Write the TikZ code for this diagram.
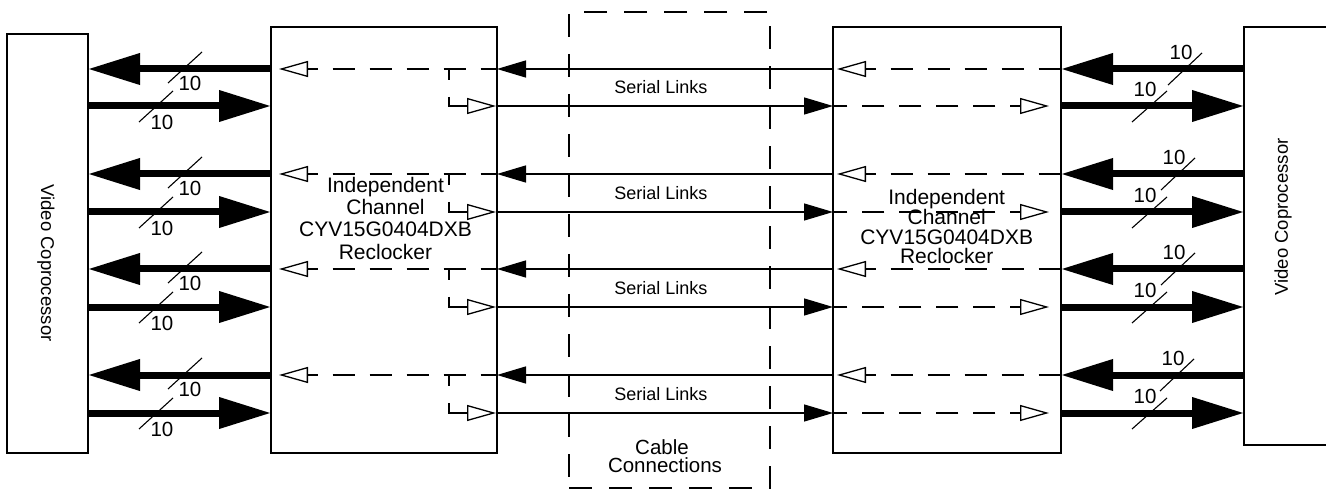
\documentclass[tikz,border=0pt]{standalone}
\usepackage{fontspec}
\setmainfont{Liberation Sans}
\usetikzlibrary{arrows.meta}
\tikzset{OTri/.tip={Triangle[open,length=29pt,width=16pt]}}
\begin{document}
\begin{tikzpicture}[x=1pt,y=-1pt,
  box/.style={draw, line width=2pt, inner sep=0pt, outer sep=0pt},
  cable/.style={draw, line width=1.6pt, dash pattern=on 23pt off 17pt, inner sep=0pt, outer sep=0pt},
  bus/.style={line width=7pt, -{Triangle[length=52pt,width=30pt]}},
  serial/.style={line width=1.3pt, -{Triangle[length=29pt,width=17pt]}},
  intl/.style={line width=1.3pt, dash pattern=on 22pt off 15pt, dash phase=12pt},
  forkl/.style={line width=1.3pt, dash pattern=on 11pt off 17pt on 60pt off 10pt},
  slash/.style={line width=1.1pt},
  txt/.style={inner sep=0pt, font=\fontsize{21}{21}\selectfont},
  num/.style={inner sep=0pt, font=\fontsize{20.5}{20.5}\selectfont},
  sl/.style={inner sep=0pt, font=\fontsize{18}{18}\selectfont},
  vc/.style={inner sep=0pt, font=\fontsize{18.5}{18.5}\selectfont},
]
\useasboundingbox (0,0) rectangle (1326,489);

% boxes
\node[box, minimum width=81pt, minimum height=419pt] (lvc) at (47.5,243.5) {};
\node[box, minimum width=226pt, minimum height=426pt] (lrc) at (384,240) {};
\node[cable, minimum width=201pt, minimum height=476pt] (cab) at (669.5,250) {};
\node[box, minimum width=228pt, minimum height=426pt] (rrc) at (947,240) {};
\node[box, minimum width=90pt, minimum height=418pt] (rvc) at (1289,236) {};

% box texts
\node[vc, rotate=-90] (lvct) at (46,263) {Video Coprocessor};
\node[vc, rotate=90] (rvct) at (1283,217) {Video Coprocessor};

\node[txt, anchor=base] (la) at (385.5,193) {Independent};
\node[txt, anchor=base] (lb) at (385.5,215) {Channel};
\node[txt, anchor=base] (lc) at (385.5,237) {CYV15G0404DXB};
\node[txt, anchor=base] (ld) at (385.5,260) {Reclocker};

\node[txt, anchor=base] (ra) at (946.7,205) {Independent};
\node[txt, anchor=base] (rb) at (946.7,225) {Channel};
\node[txt, anchor=base] (rc) at (946.7,245) {CYV15G0404DXB};
\node[txt, anchor=base] (rd) at (946.7,264) {Reclocker};

\node[txt, anchor=base, font=\fontsize{20.5}{20.5}\selectfont] (cb1) at (662,454) {Cable};
\node[txt, anchor=base, font=\fontsize{20.5}{20.5}\selectfont] (cb2) at (665,472) {Connections};

\foreach \i/\yl/\yr/\rs in {1/69/106/1185, 2/174/212/1178, 3/269/307/1178, 4/375/413/1177} {
  \coordinate (L\i) at (0,\yl);
  \coordinate (R\i) at (0,\yr);
  % left parallel buses
  \draw[bus] (lrc.west |- L\i) -- (lvc.east |- L\i);
  \draw[bus] (lvc.east |- R\i) -- (lrc.west |- R\i);
  \draw[slash] (168,{\yl+14}) -- (202,{\yl-17});
  \node[num] (nla\i) at (190,{\yl+14}) {10};
  \draw[slash] (139,{\yr+16}) -- (173,{\yr-15});
  \node[num] (nlb\i) at (162,{\yr+16}) {10};
  % right parallel buses
  \draw[bus] (rvc.west |- L\i) -- (rrc.east |- L\i);
  \draw[bus] (rrc.east |- R\i) -- (rvc.west |- R\i);
  \draw[slash] ({\rs-17},{\yl+16}) -- ({\rs+17},{\yl-16});
  \node[num] (nra\i) at ({\rs-4},{\yl-17}) {10};
  \draw[slash] (1132,{\yr+16}) -- (1167,{\yr-15});
  \node[num] (nrb\i) at (1145,{\yr-17}) {10};
  % serial links
  \draw[serial] (rrc.west |- L\i) -- (lrc.east |- L\i);
  \draw[serial] (lrc.east |- R\i) -- (rrc.west |- R\i);
  \node[sl] (sl\i) at (661,{(\yl+\yr)/2}) {Serial Links};
  % left reclocker internals
  \coordinate (lt\i) at (279,\yl);
  \draw[intl, OTri-] (lt\i) -- (lrc.east |- L\i);
  \coordinate (fk\i) at (449,\yl);
  \coordinate (ft\i) at (496,\yr);
  \draw[forkl, -OTri] (fk\i) -- (fk\i |- R\i) -- (ft\i);
  % right reclocker internals
  \coordinate (rt\i) at (837,\yl);
  \draw[intl, OTri-] (rt\i) -- (rrc.east |- L\i);
  \coordinate (ru\i) at (1049,\yr);
  \draw[intl, OTri-] (ru\i) -- (rrc.west |- R\i);
}
\end{tikzpicture}
\end{document}
